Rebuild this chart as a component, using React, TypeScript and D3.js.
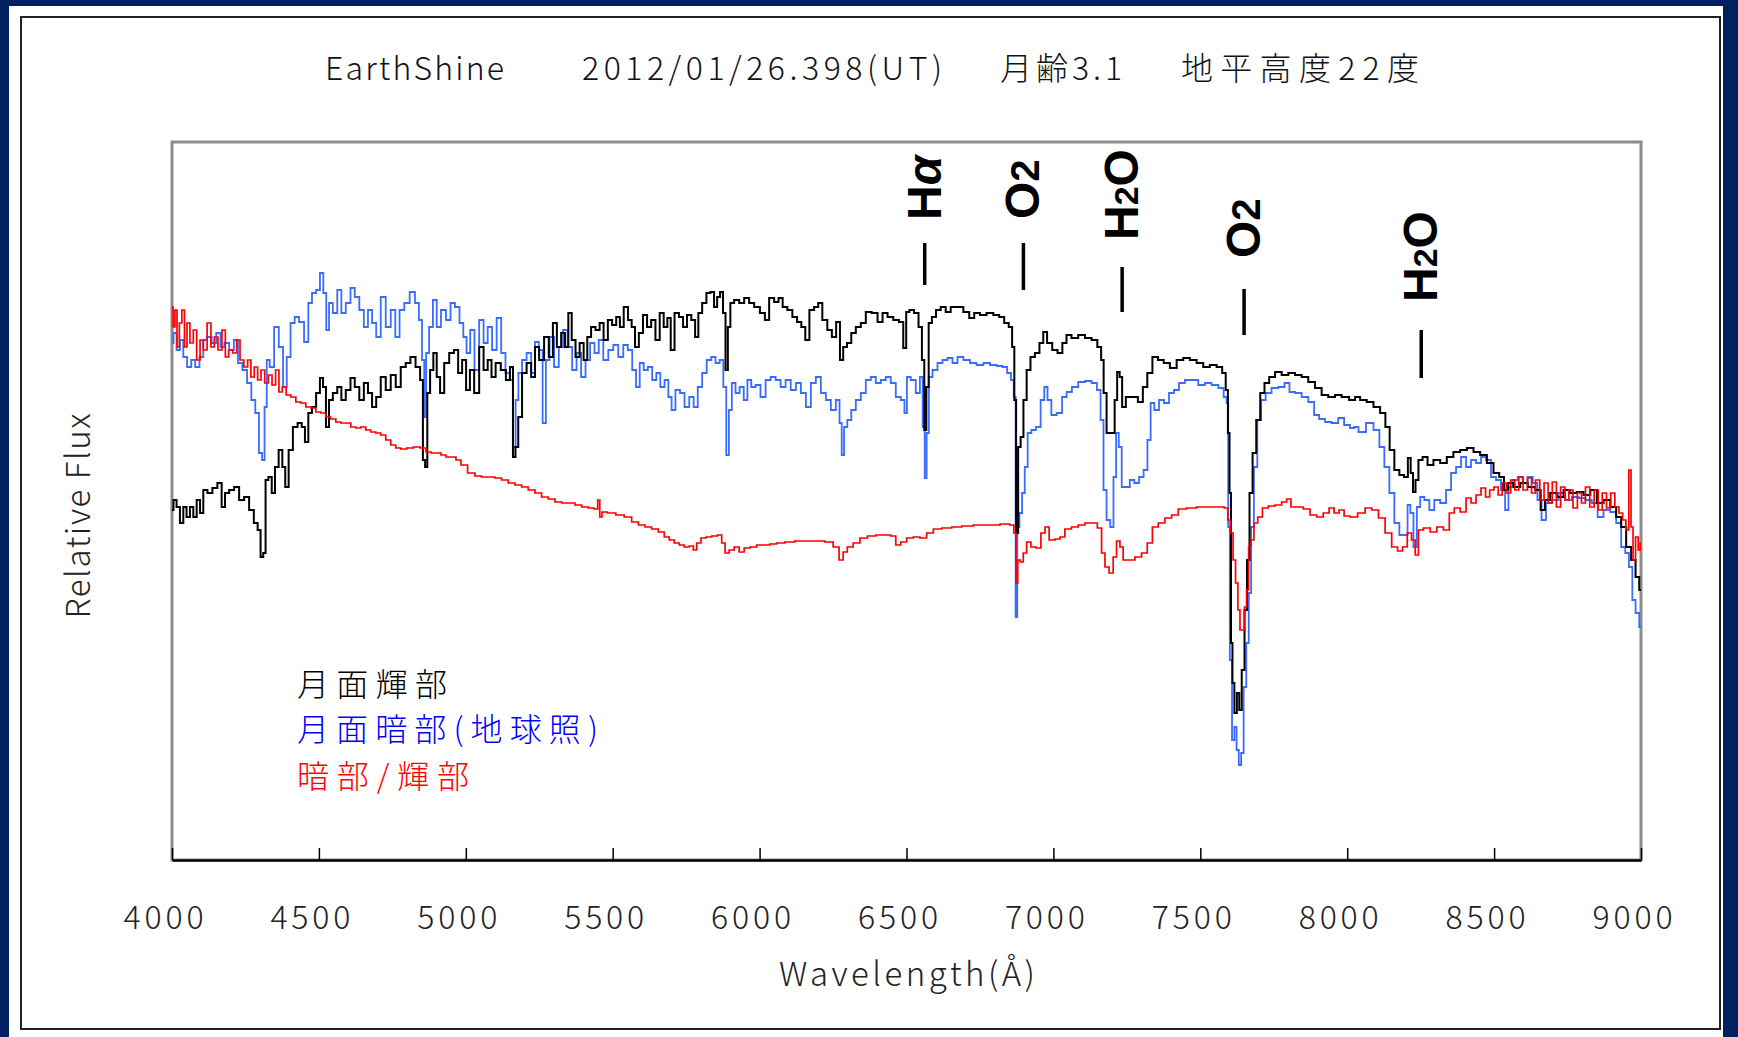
import React, {useEffect, useRef} from 'react';
import * as d3 from 'd3';

const W = 1738;
const H = 1037;

// [wavelength (Å), relative flux]
const brightLimb: number[][] = [
  [4000,3.50],[4010,3.60],[4021,3.53],[4033,3.37],[4044,3.53],[4055,3.43],[4067,3.53],[4078,3.43],[4090,3.60],[4101,3.47],
  [4112,3.70],[4129,3.67],[4146,3.72],[4163,3.77],[4175,3.53],[4186,3.67],[4203,3.70],[4220,3.73],[4237,3.60],[4254,3.63],
  [4271,3.50],[4286,3.37],[4297,3.30],[4306,3.03],[4315,3.07],[4322,3.80],[4334,3.83],[4345,3.67],[4356,3.93],[4370,4.10],
  [4381,3.93],[4390,3.73],[4404,4.10],[4419,4.33],[4436,4.37],[4447,4.33],[4458,4.18],[4470,4.47],[4483,4.53],[4498,4.67],
  [4509,4.82],[4519,4.73],[4529,4.33],[4540,4.60],[4555,4.67],[4570,4.73],[4583,4.60],[4600,4.70],[4615,4.82],[4629,4.73],
  [4646,4.60],[4660,4.77],[4674,4.67],[4688,4.53],[4702,4.63],[4719,4.83],[4736,4.70],[4753,4.85],[4770,4.73],[4787,4.93],
  [4804,4.97],[4819,5.03],[4839,4.93],[4850,4.80],[4858,4.00],[4865,3.93],[4873,4.67],[4884,4.90],[4895,5.07],[4907,4.83],
  [4918,4.67],[4935,4.97],[4952,5.07],[4967,5.10],[4981,4.87],[4994,5.00],
  [5008,4.70],[5020,4.90],[5037,4.67],[5054,5.13],[5067,4.90],[5082,5.00],[5093,4.83],[5110,4.97],[5128,4.90],[5145,4.80],
  [5156,4.93],[5165,4.03],[5173,4.13],[5184,4.43],[5199,4.87],[5215,4.97],[5230,4.83],[5241,5.13],[5258,5.00],[5275,5.23],
  [5290,5.03],[5303,5.37],[5317,5.13],[5332,5.27],[5343,5.13],[5355,5.47],[5366,5.20],[5381,5.03],[5394,5.17],[5408,5.00],
  [5419,5.23],[5434,5.33],[5449,5.30],[5462,5.37],[5476,5.20],[5491,5.40],[5505,5.35],[5519,5.43],[5530,5.33],[5545,5.53],
  [5559,5.40],[5570,5.33],[5582,5.13],[5596,5.27],[5610,5.45],[5624,5.33],[5638,5.40],[5653,5.20],[5667,5.47],[5680,5.33],
  [5692,5.42],[5703,5.10],[5718,5.47],[5733,5.43],[5746,5.33],[5760,5.45],[5775,5.40],[5786,5.23],[5797,5.47],[5812,5.57],
  [5826,5.67],[5839,5.68],[5851,5.53],[5860,5.63],[5871,5.68],[5880,5.47],[5888,4.90],[5896,5.33],[5905,5.57],[5922,5.60],
  [5939,5.57],[5956,5.62],[5973,5.57],[5990,5.53],
  [6012,5.47],[6024,5.40],[6041,5.62],[6058,5.58],[6071,5.62],[6086,5.53],[6103,5.50],[6120,5.43],[6135,5.38],[6149,5.33],
  [6162,5.20],[6177,5.50],[6194,5.53],[6205,5.57],[6222,5.40],[6239,5.30],[6253,5.23],[6268,5.38],[6279,5.00],[6290,5.13],
  [6305,5.17],[6319,5.27],[6336,5.33],[6353,5.37],[6370,5.48],[6393,5.47],[6410,5.38],[6427,5.47],[6444,5.43],[6466,5.40],
  [6483,5.38],[6495,5.12],[6503,5.48],[6517,5.50],[6534,5.47],[6548,5.33],[6557,5.00],[6564,4.30],[6571,4.73],[6580,5.37],
  [6593,5.43],[6608,5.50],[6625,5.53],[6642,5.48],[6659,5.53],[6682,5.53],[6705,5.48],[6722,5.42],[6739,5.47],[6761,5.45],
  [6784,5.47],[6807,5.45],[6824,5.43],[6841,5.37],[6855,5.33],[6864,5.13],[6870,4.60],[6876,3.27],[6884,4.13],[6893,4.23],
  [6903,4.60],[6915,4.90],[6929,5.03],[6945,5.07],[6960,5.17],[6971,5.28],[6986,5.17],[7006,5.10],
  [7022,5.07],[7039,5.17],[7050,5.25],[7073,5.22],[7096,5.25],[7119,5.22],[7141,5.20],[7158,5.13],[7167,5.00],[7175,4.67],
  [7187,4.27],[7204,4.27],[7213,4.60],[7221,4.88],[7230,4.83],[7238,4.53],[7255,4.63],[7277,4.63],[7298,4.58],[7311,4.73],
  [7328,4.87],[7346,5.03],[7366,5.00],[7385,4.97],[7408,4.92],[7431,5.00],[7453,5.02],[7476,5.00],[7499,4.97],[7521,4.93],
  [7544,4.95],[7567,4.93],[7582,4.87],[7591,4.70],[7597,4.27],[7602,3.67],[7607,2.17],[7612,1.77],[7620,1.47],[7629,1.67],
  [7636,1.50],[7646,1.90],[7655,2.50],[7663,3.00],[7672,3.67],[7684,4.07],[7697,4.40],[7711,4.67],[7726,4.77],[7743,4.83],
  [7766,4.88],[7788,4.85],[7811,4.87],[7834,4.85],[7856,4.83],[7879,4.78],[7902,4.72],[7924,4.65],[7947,4.63],[7970,4.65],
  [7992,4.63],[8021,4.60],
  [8033,4.63],[8055,4.60],[8078,4.58],[8101,4.53],[8123,4.47],[8137,4.33],[8152,4.10],[8169,3.90],[8186,3.85],[8201,3.83],
  [8212,4.02],[8220,3.87],[8228,3.68],[8237,3.80],[8248,4.00],[8265,4.03],[8282,3.95],[8305,4.00],[8328,3.97],[8350,4.03],
  [8373,4.08],[8396,4.10],[8419,4.12],[8441,4.08],[8464,4.05],[8487,3.97],[8509,3.87],[8526,3.83],[8541,3.70],[8555,3.77],
  [8578,3.73],[8600,3.77],[8629,3.73],[8651,3.70],[8666,3.50],[8680,3.60],[8702,3.67],[8725,3.63],[8748,3.70],[8770,3.67],
  [8793,3.68],[8816,3.65],[8839,3.70],[8861,3.57],[8884,3.60],[8907,3.53],[8924,3.43],[8941,3.33],[8958,3.13],[8975,3.00],
  [8988,2.83],[9000,2.70],
];

const darkLimb: number[][] = [
  [4000,5.17],[4010,5.27],[4021,5.10],[4033,5.20],[4044,5.03],[4059,4.93],[4072,5.00],[4086,4.93],[4101,5.03],[4112,5.20],
  [4127,5.23],[4143,5.17],[4158,5.27],[4172,5.13],[4186,5.17],[4203,5.10],[4218,5.20],[4231,4.97],[4248,4.90],[4263,4.77],
  [4277,4.60],[4290,4.47],[4302,4.07],[4311,4.00],[4319,4.53],[4326,5.00],[4339,4.93],[4356,5.33],[4371,5.13],[4385,4.73],
  [4396,5.03],[4411,5.37],[4424,5.43],[4441,5.38],[4458,5.18],[4470,5.57],[4483,5.67],[4498,5.70],[4509,5.87],[4521,5.67],
  [4529,5.30],[4540,5.57],[4555,5.47],[4570,5.70],[4583,5.47],[4600,5.57],[4615,5.72],[4629,5.63],[4646,5.50],[4660,5.33],
  [4674,5.50],[4688,5.37],[4702,5.23],[4719,5.63],[4736,5.33],[4753,5.50],[4767,5.23],[4782,5.50],[4799,5.57],[4819,5.68],
  [4835,5.57],[4846,5.40],[4856,5.00],[4861,4.43],[4869,5.07],[4881,5.33],[4895,5.60],[4907,5.33],[4924,5.50],[4941,5.40],
  [4955,5.57],[4971,5.53],[4986,5.37],[4997,5.23],
  [5008,5.07],[5022,5.30],[5037,4.90],[5054,5.40],[5067,5.17],[5082,5.33],[5097,5.10],[5113,5.42],[5128,5.07],[5142,4.87],
  [5156,4.80],[5165,4.13],[5174,4.60],[5184,4.87],[5199,5.00],[5215,5.07],[5230,4.87],[5241,5.18],[5256,5.10],[5267,4.37],
  [5278,5.00],[5292,5.23],[5309,4.93],[5324,5.13],[5338,5.30],[5355,5.13],[5369,4.90],[5385,5.07],[5400,4.83],[5415,5.00],
  [5431,5.17],[5445,5.07],[5460,5.20],[5476,5.00],[5494,5.10],[5510,5.15],[5528,5.03],[5544,5.15],[5559,5.10],[5574,4.90],
  [5585,4.73],[5599,4.97],[5612,4.90],[5627,4.93],[5642,4.80],[5655,4.87],[5669,4.73],[5684,4.80],[5695,4.63],[5706,4.50],
  [5721,4.70],[5737,4.67],[5752,4.53],[5769,4.63],[5782,4.53],[5797,4.73],[5812,4.87],[5828,5.00],[5843,5.03],[5857,4.97],
  [5871,5.00],[5882,4.73],[5891,4.05],[5900,4.50],[5911,4.77],[5925,4.67],[5939,4.73],[5953,4.60],[5964,4.80],[5979,4.73],
  [5994,4.75],
  [6012,4.63],[6029,4.80],[6046,4.83],[6063,4.80],[6080,4.73],[6097,4.80],[6115,4.70],[6132,4.77],[6149,4.67],[6166,4.53],
  [6183,4.77],[6200,4.83],[6217,4.67],[6234,4.60],[6251,4.50],[6268,4.60],[6276,4.37],[6283,4.05],[6292,4.33],[6305,4.40],
  [6319,4.50],[6336,4.60],[6353,4.67],[6370,4.80],[6387,4.83],[6404,4.77],[6421,4.80],[6438,4.83],[6455,4.77],[6472,4.63],
  [6489,4.60],[6497,4.47],[6506,4.83],[6523,4.80],[6540,4.67],[6551,4.83],[6559,4.33],[6565,3.82],[6572,4.27],[6580,4.83],
  [6597,4.90],[6614,4.97],[6631,5.00],[6648,5.02],[6665,4.97],[6682,5.03],[6705,5.00],[6727,4.97],[6750,4.95],[6773,4.97],
  [6796,4.95],[6818,4.94],[6835,4.93],[6850,4.87],[6861,4.80],[6869,4.63],[6874,2.43],[6880,3.33],[6889,3.47],[6898,3.67],
  [6907,3.93],[6918,4.27],[6932,4.30],[6949,4.33],[6964,4.60],[6974,4.73],[6986,4.60],[7000,4.45],
  [7022,4.47],[7037,4.63],[7053,4.68],[7073,4.73],[7096,4.78],[7119,4.79],[7141,4.77],[7155,4.70],[7166,4.40],[7175,3.70],
  [7187,3.40],[7200,3.33],[7209,3.83],[7218,4.27],[7227,4.13],[7238,3.73],[7252,3.73],[7268,3.80],[7283,3.77],[7300,3.83],
  [7314,3.90],[7326,4.20],[7336,4.57],[7351,4.50],[7368,4.60],[7385,4.57],[7402,4.67],[7419,4.70],[7436,4.77],[7459,4.80],
  [7482,4.80],[7504,4.75],[7527,4.77],[7550,4.75],[7573,4.72],[7586,4.63],[7593,4.57],[7597,3.33],[7604,2.00],[7612,1.20],
  [7620,1.33],[7627,1.10],[7635,0.95],[7643,1.07],[7652,1.73],[7661,2.17],[7669,2.67],[7677,3.33],[7688,3.93],[7700,4.40],
  [7714,4.60],[7731,4.67],[7754,4.72],[7777,4.73],[7796,4.77],[7811,4.68],[7834,4.67],[7856,4.63],[7879,4.58],[7896,4.45],
  [7913,4.41],[7936,4.38],[7958,4.37],[7981,4.42],[7998,4.35],[8021,4.32],
  [8027,4.33],[8050,4.28],[8078,4.37],[8101,4.30],[8118,4.13],[8135,3.93],[8152,3.67],[8169,3.37],[8186,3.25],[8201,3.25],
  [8210,3.55],[8220,3.47],[8231,3.13],[8243,3.53],[8254,3.63],[8271,3.60],[8288,3.50],[8305,3.60],[8328,3.57],[8345,3.70],
  [8362,3.87],[8379,3.93],[8396,4.03],[8413,3.93],[8430,4.00],[8447,3.97],[8464,4.03],[8481,4.00],[8498,3.83],[8515,3.80],
  [8532,3.70],[8543,3.50],[8555,3.73],[8572,3.80],[8589,3.83],[8606,3.77],[8623,3.83],[8640,3.77],[8655,3.60],[8668,3.40],
  [8685,3.57],[8708,3.60],[8731,3.67],[8753,3.60],[8776,3.63],[8799,3.62],[8821,3.60],[8844,3.57],[8861,3.43],[8884,3.50],
  [8907,3.48],[8924,3.37],[8941,3.13],[8952,3.07],[8966,2.93],[8975,2.60],[8988,2.47],[9000,2.33],
];

const darkOverBright: number[][] = [
  [4000,5.53],[4007,5.33],[4013,5.50],[4021,5.13],[4029,5.37],[4038,5.50],[4047,5.13],[4055,5.37],[4067,5.17],[4078,5.30],
  [4090,5.00],[4101,5.20],[4112,5.10],[4127,5.37],[4138,5.13],[4150,5.23],[4163,5.10],[4177,5.30],[4186,5.03],[4200,5.10],
  [4214,5.07],[4226,5.20],[4237,5.00],[4252,4.93],[4263,5.00],[4274,4.83],[4286,4.93],[4297,4.80],[4309,4.90],[4322,4.77],
  [4334,4.85],[4347,4.75],[4358,4.90],[4370,4.68],[4381,4.73],[4396,4.65],[4413,4.63],[4430,4.58],[4447,4.57],[4464,4.53],
  [4481,4.52],[4498,4.48],[4515,4.47],[4532,4.43],[4549,4.41],[4566,4.38],[4583,4.37],[4600,4.37],[4617,4.33],[4634,4.32],
  [4651,4.33],[4668,4.30],[4685,4.28],[4702,4.27],[4719,4.25],[4736,4.20],[4753,4.15],[4770,4.12],[4787,4.11],[4810,4.12],
  [4833,4.13],[4856,4.12],[4873,4.08],[4890,4.07],[4907,4.07],[4924,4.05],[4941,4.03],[4958,4.03],[4975,4.00],[4992,3.95],
  [5020,3.87],[5042,3.84],[5065,3.83],[5088,3.83],[5110,3.82],[5133,3.80],[5156,3.77],[5179,3.75],[5201,3.73],[5224,3.70],
  [5247,3.67],[5269,3.63],[5292,3.61],[5315,3.58],[5338,3.57],[5360,3.57],[5383,3.55],[5406,3.53],[5428,3.52],[5445,3.51],
  [5453,3.60],[5459,3.43],[5468,3.48],[5496,3.47],[5525,3.45],[5553,3.43],[5576,3.38],[5599,3.35],[5621,3.33],[5644,3.31],
  [5667,3.28],[5684,3.23],[5701,3.20],[5718,3.17],[5735,3.15],[5752,3.13],[5769,3.14],[5780,3.10],[5792,3.17],[5809,3.22],
  [5826,3.23],[5848,3.24],[5865,3.25],[5877,3.17],[5888,3.07],[5905,3.10],[5922,3.13],[5939,3.08],[5956,3.12],[5979,3.13],
  [6001,3.15],
  [6024,3.15],[6046,3.16],[6069,3.17],[6103,3.18],[6137,3.19],[6171,3.19],[6205,3.19],[6239,3.18],[6262,3.13],[6279,3.00],
  [6290,3.08],[6307,3.13],[6330,3.17],[6353,3.22],[6381,3.24],[6410,3.25],[6438,3.25],[6455,3.24],[6472,3.15],[6489,3.18],
  [6512,3.22],[6534,3.23],[6557,3.22],[6580,3.27],[6603,3.31],[6637,3.32],[6671,3.33],[6705,3.34],[6750,3.35],[6796,3.35],
  [6841,3.36],[6861,3.35],[6870,3.27],[6875,2.77],[6882,3.00],[6892,2.98],[6903,3.07],[6915,3.18],[6932,3.13],[6949,3.12],
  [6966,3.27],[6977,3.33],[6994,3.20],[7017,3.21],
  [7028,3.23],[7050,3.31],[7073,3.33],[7096,3.35],[7119,3.37],[7141,3.37],[7158,3.32],[7170,3.07],[7181,2.93],[7198,2.87],
  [7209,3.03],[7221,3.19],[7232,3.13],[7243,3.00],[7266,3.00],[7289,3.03],[7311,3.07],[7328,3.17],[7346,3.33],[7368,3.37],
  [7391,3.42],[7414,3.45],[7436,3.51],[7470,3.52],[7504,3.53],[7538,3.53],[7573,3.53],[7590,3.52],[7597,3.40],[7607,3.27],
  [7616,3.00],[7624,2.77],[7632,2.50],[7638,2.30],[7647,2.30],[7654,2.53],[7661,2.70],[7668,3.13],[7677,3.20],[7688,3.37],
  [7703,3.43],[7720,3.52],[7743,3.54],[7766,3.55],[7788,3.58],[7800,3.61],[7817,3.53],[7839,3.53],[7862,3.51],[7885,3.45],
  [7907,3.43],[7930,3.47],[7947,3.52],[7964,3.47],[7981,3.50],[7998,3.44],[8021,3.43],
  [8050,3.47],[8072,3.52],[8095,3.50],[8118,3.42],[8140,3.27],[8163,3.13],[8180,3.09],[8197,3.13],[8212,3.27],[8226,3.20],
  [8237,3.05],[8248,3.30],[8271,3.32],[8294,3.28],[8316,3.33],[8339,3.30],[8356,3.47],[8373,3.52],[8396,3.48],[8413,3.62],
  [8430,3.57],[8447,3.65],[8464,3.72],[8478,3.63],[8492,3.70],[8507,3.73],[8521,3.65],[8534,3.77],[8549,3.67],[8564,3.80],
  [8577,3.70],[8591,3.83],[8606,3.70],[8621,3.82],[8634,3.67],[8648,3.80],[8663,3.60],[8677,3.77],[8691,3.57],[8705,3.78],
  [8719,3.53],[8734,3.73],[8748,3.60],[8761,3.70],[8776,3.52],[8791,3.67],[8804,3.57],[8818,3.73],[8833,3.53],[8848,3.70],
  [8861,3.50],[8875,3.67],[8890,3.52],[8904,3.67],[8918,3.53],[8932,3.47],[8943,3.40],[8954,3.30],[8963,3.90],[8969,3.33],
  [8977,3.00],[8986,3.23],[8995,3.10],[9000,3.17],
];

const xTicks = [4000, 4500, 5000, 5500, 6000, 6500, 7000, 7500, 8000, 8500, 9000];

const titleParts = ['EarthShine', '2012/01/26.398(UT)', '月齢3.1', '地平高度22度'];
const legendLabels = ['月面輝部', '月面暗部(地球照)', '暗部/輝部'];
const legendColors = ['#000000', '#0000ff', '#ff0000'];

// absorption features marked above the spectra
const featureLabels = ['Hα', 'O2', 'H2O', 'O2', 'H2O'];
const featureWl = [6562, 6898, 7234, 7649, 8252];
const featureLabelAt = [6.40, 6.41, 6.20, 6.02, 5.58];
const featureLineTop = [6.17, 6.17, 5.93, 5.71, 5.30];
const featureLineBottom = [5.75, 5.70, 5.48, 5.25, 4.82];

const FONT = "'Noto Sans CJK JP', 'Liberation Sans', sans-serif";

const App: React.FC = () => {
  const ref = useRef<SVGSVGElement>(null);

  useEffect(() => {
    const svg = d3.select(ref.current);
    svg.selectAll('*').remove();

    const plot = {left: 172, right: 1641, top: 142, bottom: 860};

    const x = d3.scaleLinear().domain([4000, 9000]).range([plot.left, plot.right]);
    const y = d3.scaleLinear().domain([0, 7.18]).range([plot.bottom, plot.top]);

    // page background + white panel + outer frame
    svg.append('rect').attr('width', W).attr('height', H).attr('fill', '#002060');
    svg.append('rect').attr('x', 9).attr('y', 6).attr('width', 1714).attr('height', H - 6).attr('fill', '#ffffff');
    svg.append('rect')
      .attr('x', 21).attr('y', 17).attr('width', 1699).attr('height', 1012)
      .attr('fill', 'none').attr('stroke', '#222').attr('stroke-width', 2);

    // title
    const titleX = [325, 582, 1000, 1181];
    const titleW = [179, 360, 122, 238];
    svg.append('g')
      .selectAll('text')
      .data(titleParts)
      .join('text')
      .attr('x', (_, i) => titleX[i])
      .attr('y', 80)
      .attr('textLength', (_, i) => titleW[i])
      .attr('lengthAdjust', 'spacing')
      .attr('font-family', FONT)
      .attr('font-weight', 300)
      .attr('font-size', 32)
      .attr('fill', '#111')
      .text(d => d);

    // plot frame
    svg.append('rect')
      .attr('x', plot.left).attr('y', plot.top)
      .attr('width', plot.right - plot.left).attr('height', plot.bottom - plot.top)
      .attr('fill', 'none').attr('stroke', '#8c8c8c').attr('stroke-width', 3);

    // x axis with inward ticks
    const xAxis = svg.append('g')
      .attr('transform', `translate(0,${plot.bottom})`)
      .call(d3.axisBottom(x).tickValues(xTicks).tickSizeInner(-12).tickSizeOuter(0).tickPadding(46)
        .tickFormat(d => String(d)));
    xAxis.select('.domain').attr('stroke', '#000').attr('stroke-width', 2.5);
    xAxis.selectAll('.tick line').attr('stroke', '#000').attr('stroke-width', 1.5);
    xAxis.selectAll('.tick text')
      .attr('x', -9)
      .attr('font-family', FONT)
      .attr('font-weight', 300)
      .attr('font-size', 32)
      .attr('fill', '#222')
      .attr('textLength', 80)
      .attr('lengthAdjust', 'spacing');

    // axis titles
    svg.append('text')
      .attr('x', 907).attr('y', 986)
      .attr('text-anchor', 'middle')
      .attr('textLength', 256).attr('lengthAdjust', 'spacing')
      .attr('font-family', FONT).attr('font-weight', 300).attr('font-size', 33).attr('fill', '#222')
      .text('Wavelength(Å)');

    svg.append('text')
      .attr('transform', 'translate(90,516) rotate(-90)')
      .attr('text-anchor', 'middle')
      .attr('textLength', 205).attr('lengthAdjust', 'spacing')
      .attr('font-family', FONT).attr('font-weight', 300).attr('font-size', 33).attr('fill', '#222')
      .text('Relative Flux');

    // spectra
    const line = d3.line<number[]>()
      .x(d => x(d[0]))
      .y(d => y(d[1]))
      .curve(d3.curveStep);

    const series = [
      {data: darkLimb, color: '#3a6cff', width: 1.8},
      {data: brightLimb, color: '#000000', width: 2},
      {data: darkOverBright, color: '#ff0000', width: 1.7},
    ];

    svg.append('g')
      .selectAll('path')
      .data(series)
      .join('path')
      .attr('d', d => line(d.data))
      .attr('fill', 'none')
      .attr('stroke', d => d.color)
      .attr('stroke-width', d => d.width)
      .attr('stroke-linejoin', 'miter');

    // feature markers
    const marks = svg.append('g');
    featureLabels.forEach((label, i) => {
      const fx = x(featureWl[i]);
      marks.append('line')
        .attr('x1', fx).attr('x2', fx)
        .attr('y1', y(featureLineTop[i])).attr('y2', y(featureLineBottom[i]))
        .attr('stroke', '#000').attr('stroke-width', 3.5);

      const t = marks.append('text')
        .attr('transform', `translate(${fx + 16},${y(featureLabelAt[i])}) rotate(-90)`)
        .attr('font-family', "'Liberation Sans', Arial, sans-serif")
        .attr('font-weight', 'bold')
        .attr('font-size', 48)
        .attr('fill', '#000');
      for (const ch of label) {
        const ts = t.append('tspan').text(ch);
        if (ch === '2') ts.attr('font-size', label === 'O2' ? 40 : 34);
        if (ch === 'α') ts.attr('font-style', 'italic');
      }
    });

    // legend (coloured labels)
    const legendY = [682, 727, 774];
    const legendW = [150, 301, 172];
    svg.append('g')
      .selectAll('text')
      .data(legendLabels)
      .join('text')
      .attr('x', 297)
      .attr('y', (_, i) => legendY[i])
      .attr('dominant-baseline', 'central')
      .attr('textLength', (_, i) => legendW[i])
      .attr('lengthAdjust', 'spacing')
      .attr('font-family', FONT)
      .attr('font-weight', 300)
      .attr('font-size', 32)
      .attr('fill', (_, i) => legendColors[i])
      .text(d => d);
  }, []);

  return (
    <svg ref={ref} width={W} height={H} style={{position: 'absolute', left: 0, top: 0, display: 'block'}}/>
  );
};

export default App;
